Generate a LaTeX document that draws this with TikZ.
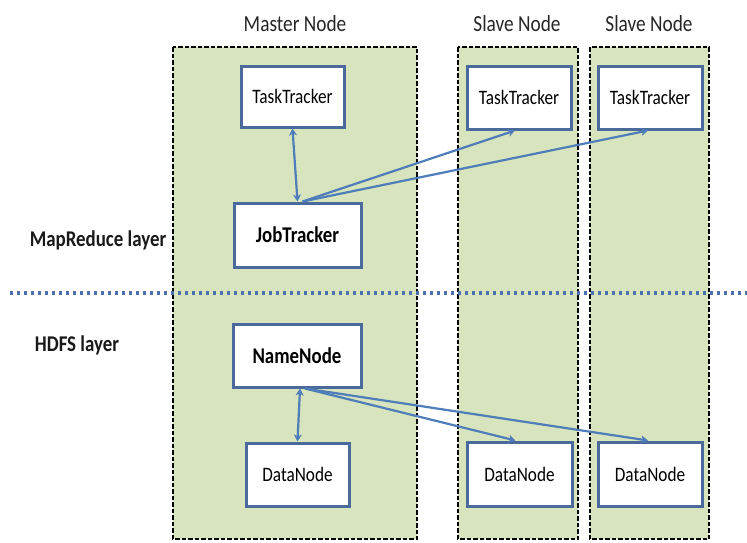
\documentclass[tikz,border=0pt]{standalone}
\usepackage{fontspec}
\setmainfont{Carlito}[FakeStretch=0.84]
\usetikzlibrary{arrows.meta}
\definecolor{panelgreen}{HTML}{D7E4BD}
\definecolor{boxblue}{HTML}{4A6A9C}
\definecolor{arrowblue}{HTML}{4F7DBA}
\definecolor{dotblue}{HTML}{4A72AE}
\tikzset{
  panel/.style={draw=black, fill=panelgreen, line width=2.5pt, dash pattern=on 4.5pt off 2pt},
  box/.style={draw=boxblue, fill=white, line width=3pt, inner sep=0pt, font=\fontsize{20.5}{22}\selectfont},
  boldbox/.style={box, font=\fontsize{22.5}{24}\selectfont\bfseries},
  title/.style={font=\fontsize{23}{25}\selectfont, text=black!85},
  layer/.style={font=\fontsize{22.5}{24}\selectfont\bfseries, text=black!90},
  link/.style={draw=arrowblue, line width=2.2pt, -{Stealth[length=7pt,width=8pt,inset=2pt]}},
  dlink/.style={link, {Stealth[length=7pt,width=8pt,inset=2pt]}-{Stealth[length=7pt,width=8pt,inset=2pt]}},
}
\begin{document}
\begin{tikzpicture}[x=1pt,y=-1pt]
\useasboundingbox (0,0) rectangle (747,542);
% panels
\path[panel] (173,47) rectangle (417,539);
\path[panel] (458,47) rectangle (578,539);
\path[panel] (590,47) rectangle (709,539);
% titles
\node[title] (tm) at (295,24) {Master Node};
\node[title] (ts1) at (517,24) {Slave Node};
\node[title] (ts2) at (649,24) {Slave Node};
% layer labels
\node[layer] (lmr) at (98,240) {MapReduce layer};
\node[layer] (lhd) at (77,345) {HDFS layer};
% dotted separator
\coordinate (dl) at (10,293);
\coordinate (dr) at (747,293);
\draw[dotblue, line width=3.5pt, dash pattern=on 3pt off 4pt] (dl) -- (dr);
% boxes
\node[box, minimum width=103pt, minimum height=61pt] (mtt) at (292.5,96.5) {TaskTracker};
\node[boldbox, minimum width=127pt, minimum height=64pt] (jt) at (297.5,235) {JobTracker};
\node[box, minimum width=104pt, minimum height=63pt] (stt1) at (519,97.5) {TaskTracker};
\node[box, minimum width=104pt, minimum height=63pt] (stt2) at (650,97.5) {TaskTracker};
\node[boldbox, minimum width=128pt, minimum height=63pt] (nn) at (297,355.5) {NameNode};
\node[box, minimum width=103pt, minimum height=63pt] (mdn) at (297.5,474.5) {DataNode};
\node[box, minimum width=105pt, minimum height=64pt] (sdn1) at (519.5,474) {DataNode};
\node[box, minimum width=104pt, minimum height=64pt] (sdn2) at (650,474) {DataNode};
% connectors
\draw[dlink] (mtt.south) -- (jt.north);
\draw[link] ([xshift=5pt]jt.north) -- ([xshift=-4pt]stt1.south);
\draw[link] ([xshift=5pt]jt.north) -- ([xshift=-2pt]stt2.south);
\draw[dlink] ([xshift=3pt]nn.south) -- (mdn.north);
\draw[link] ([xshift=8pt]nn.south) -- ([xshift=-4pt]sdn1.north);
\draw[link] ([xshift=8pt]nn.south) -- ([xshift=-2pt]sdn2.north);
\end{tikzpicture}
\end{document}
